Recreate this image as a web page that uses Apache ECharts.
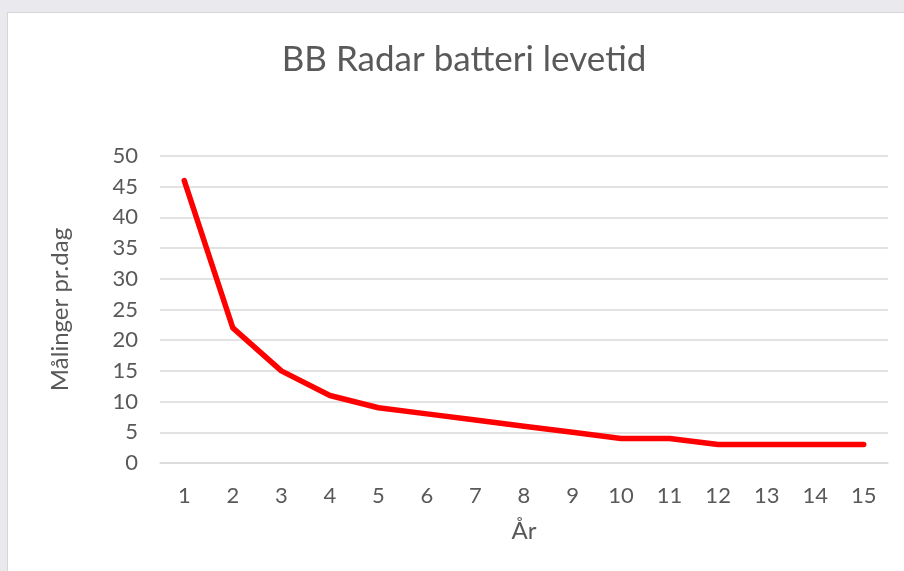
<!DOCTYPE html>
<html>
<head>
<meta charset="utf-8">
<script src="https://cdn.jsdelivr.net/npm/echarts@6/dist/echarts.min.js"></script>
<style>
    html, body { margin: 0; padding: 0; background: #e9e9ee; overflow: hidden; }
    #wrap {
        position: absolute; left: 7px; top: 12px;
        width: 896px; height: 558px;
        background: #fff; border: 1px solid #d6d6d6;
    }
    #chart { width: 896px; height: 558px; }
</style>
</head>
<body>
<div id="wrap"><div id="chart"></div></div>
<script>
// data
var years = ['1', '2', '3', '4', '5', '6', '7', '8', '9', '10', '11', '12', '13', '14', '15'];
var malinger = [46, 22, 15, 11, 9, 8, 7, 6, 5, 4, 4, 3, 3, 3, 3];
var yTicks = { min: 0, max: 50, interval: 5 };

var myChart = echarts.init(document.getElementById('chart'));
var txt = '#595959';
var option = {
    animation: false,
    title: {
        text: 'BB Radar batteri levetid',
        left: 451,
        top: 24,
        textAlign: 'center',
        textStyle: { fontFamily: 'Lato', fontSize: 35, fontWeight: 'normal', color: txt }
    },
    grid: { left: 152, right: 16, top: 143, bottom: 108 },
    xAxis: {
        type: 'category',
        data: years,
        boundaryGap: true,
        name: 'År',
        nameLocation: 'middle',
        nameGap: 56,
        nameTextStyle: { fontFamily: 'Lato', fontSize: 24, color: txt },
        axisLine: { lineStyle: { color: '#d9d9d9', width: 1.5 } },
        axisTick: { show: false },
        axisLabel: { margin: 22, fontFamily: 'Lato', fontSize: 22, color: txt }
    },
    yAxis: {
        type: 'value',
        min: yTicks.min,
        max: yTicks.max,
        interval: yTicks.interval,
        name: 'Målinger pr.dag',
        nameLocation: 'middle',
        nameGap: 88,
        nameTextStyle: { fontFamily: 'Lato', fontSize: 24, color: txt },
        axisLine: { show: false },
        axisTick: { show: false },
        splitLine: { lineStyle: { color: '#d9d9d9', width: 1.5 } },
        axisLabel: { margin: 22, fontFamily: 'Lato', fontSize: 22, color: txt }
    },
    series: [
        {
            type: 'line',
            data: malinger,
            showSymbol: false,
            symbol: 'none',
            lineStyle: { color: '#ff0000', width: 5.5, cap: 'round', join: 'round' }
        }
    ]
};
myChart.setOption(option);
</script>
</body>
</html>
